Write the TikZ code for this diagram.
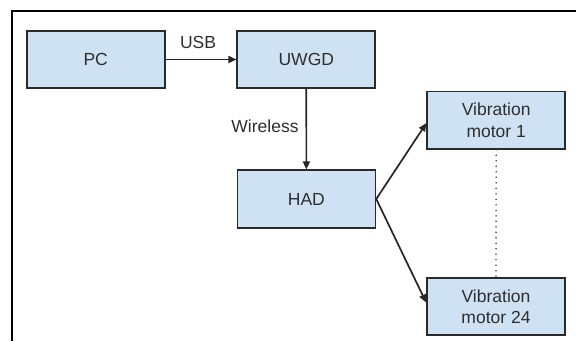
\documentclass[tikz,border=0pt]{standalone}
\usepackage{fontspec}
\setmainfont{Liberation Sans}
\usetikzlibrary{arrows.meta,calc}
\definecolor{boxfill}{HTML}{CFE2F3}
\definecolor{boxline}{HTML}{2A2A2A}
\definecolor{txt}{HTML}{2E2E2E}
\begin{document}
\begin{tikzpicture}[x=1pt,y=1pt,
  blockbox/.style={draw=boxline, fill=boxfill, line width=1.7pt, minimum width=138pt, minimum height=57.5pt, inner sep=0pt, align=center, font=\fontsize{17.5}{21.5}\selectfont, text=txt},
  conn/.style={draw=black!85, line width=1.7pt, -{Triangle[length=8pt,width=7pt]}},
  lbl/.style={font=\fontsize{17.5}{21.5}\selectfont, text=txt, inner sep=0pt}]
\useasboundingbox (0,0) rectangle (576,341);
\fill[white] (0,0) rectangle (576,341);
% cropped frame
\draw[line width=2.3pt, black] (12,0) -- (12,330) -- (576,330);
% nodes
\node[blockbox] (pc)   at (95.7,281.5) {PC};
\node[blockbox] (uwgd) at (306.3,281.5) {UWGD};
\node[blockbox] (had)  at (306.4,142) {HAD};
\node[blockbox] (vm1)  at (496.2,220.8) {Vibration\\motor 1};
\node[blockbox] (vm24) at (496,34.5) {Vibration\\motor 24};
% targets
\coordinate (t1) at ($(vm1.west)+(0,-3)$);
\coordinate (t24) at ($(vm24.west)+(0,4)$);
% connectors
\draw[conn] (pc.east) -- (uwgd.west);
\draw[conn] (uwgd.south) -- (had.north);
\draw[conn] (had.east) -- (t1);
\draw[conn] (had.east) -- (t24);
\draw[line width=1.8pt, black!70, line cap=round, dash pattern=on 0pt off 5.5pt] (vm1.south) -- (vm24.north);
% labels
\node[lbl] (usb) at (198,298.3) {USB};
\node[lbl] (wl) at (265,214.3) {Wireless};
\end{tikzpicture}
\end{document}
